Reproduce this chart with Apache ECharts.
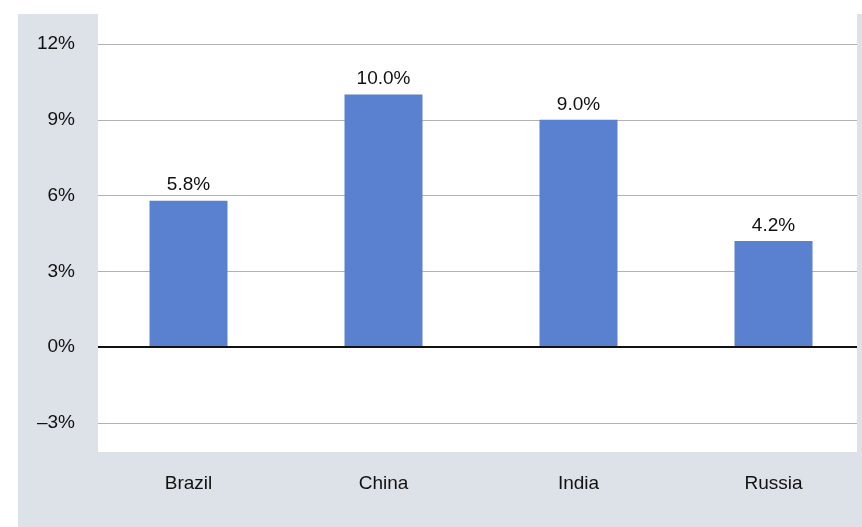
<!DOCTYPE html>
<html>
<head>
<meta charset="utf-8">
<script src="https://cdn.jsdelivr.net/npm/echarts@6/dist/echarts.min.js"></script>
<style>
  html, body { margin: 0; padding: 0; background: #ffffff; }
  #chart { width: 862px; height: 527px; }
</style>
</head>
<body>
<div id="chart"></div>
<script>
// Real GDP growth by country
const countries = ['Brazil', 'China', 'India', 'Russia'];
const growth = [5.8, 10.0, 9.0, 4.2];
const yTicks = [-3, 0, 3, 6, 9, 12];

const FONT = '"Liberation Sans", "Open Sans", sans-serif';
const PANEL = '#dde2e8';
const chart = echarts.init(document.getElementById('chart'));

chart.setOption({
  animation: false,
  backgroundColor: '#ffffff',
  graphic: [
    // grey outer panel
    { type: 'rect', z: -10, shape: { x: 18, y: 14, width: 844, height: 513 },
      style: { fill: PANEL } },
    // white plotting panel
    { type: 'rect', z: -9, shape: { x: 98, y: 14, width: 759, height: 438 },
      style: { fill: '#ffffff' } },
    // panel borders trimming the rules at both sides
    { type: 'rect', z: 100, shape: { x: 84, y: 14, width: 14, height: 438 },
      style: { fill: PANEL } },
    { type: 'rect', z: 100, shape: { x: 857, y: 14, width: 5, height: 438 },
      style: { fill: PANEL } }
  ],
  grid: { left: 91, width: 780, top: 44, bottom: 104, outerBoundsMode: 'none', containLabel: false },
  xAxis: {
    type: 'category',
    data: countries,
    axisLine: { show: false, onZero: false },
    axisTick: { show: false },
    axisLabel: { margin: 51, fontFamily: FONT, fontSize: 19, color: '#111111' }
  },
  yAxis: {
    type: 'value',
    min: yTicks[0],
    max: yTicks[yTicks.length - 1],
    interval: 3,
    axisLine: { show: false },
    axisTick: { show: false },
    splitLine: { lineStyle: { color: '#b3b3b3', width: 1 } },
    axisLabel: {
      margin: 16,
      fontFamily: FONT,
      fontSize: 19,
      color: '#111111',
      padding: [10, 0, 0, 0],
      formatter: v => (v < 0 ? '\u2013' + Math.abs(v) : v) + '%'
    }
  },
  series: [{
    type: 'bar',
    data: growth,
    barWidth: '40%',
    itemStyle: { color: '#5a80d0' },
    label: {
      show: true,
      position: 'top',
      distance: 6,
      fontFamily: FONT,
      fontSize: 19,
      color: '#111111',
      formatter: p => p.value.toFixed(1) + '%'
    },
    markLine: {
      silent: true,
      symbol: 'none',
      label: { show: false },
      lineStyle: { color: '#111111', width: 2, type: 'solid' },
      data: [{ yAxis: 0 }]
    }
  }]
});
</script>
</body>
</html>
